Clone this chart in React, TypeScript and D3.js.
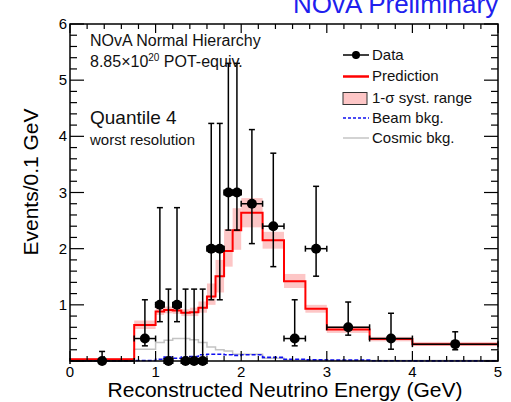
import React from "react";
import * as d3 from "d3";

// ---- data ----
const binEdges = [0, 0.75, 1.0, 1.1, 1.2, 1.3, 1.4, 1.5, 1.6, 1.7, 1.8, 1.9, 2.0, 2.25, 2.5, 2.75, 3.0, 3.5, 4.0, 5.0];
const dataValues = [0, 0.4, 1, 0, 1, 0, 0, 0, 2, 2, 3, 3, 2.8, 2.4, 0.4, 2.0, 0.6, 0.4, 0.3];
const dataUpper = [0.17, 1.09, 2.73, 1.28, 2.73, 1.28, 1.28, 1.28, 4.23, 4.23, 5.3, 5.3, 4.12, 3.7, 1.09, 3.11, 1.05, 0.85, 0.52];
const dataLower = [0, 0.27, 0.7, 0, 0.7, 0, 0, 0, 1.09, 1.09, 2.33, 2.33, 2.09, 1.68, 0.27, 1.51, 0.46, 0.21, 0.2];
const prediction = [0.03, 0.64, 0.88, 0.91, 0.9, 0.86, 0.87, 0.95, 1.15, 1.51, 1.96, 2.33, 2.64, 2.15, 1.42, 0.93, 0.56, 0.39, 0.3];
const bandLow = [0.02, 0.57, 0.82, 0.85, 0.84, 0.8, 0.8, 0.86, 1.0, 1.22, 1.68, 1.98, 2.38, 2.0, 1.3, 0.86, 0.5, 0.35, 0.27];
const bandHigh = [0.05, 0.72, 0.95, 0.97, 0.96, 0.92, 0.95, 1.06, 1.38, 1.8, 2.35, 2.72, 2.9, 2.3, 1.55, 1.0, 0.62, 0.43, 0.34];
const beamBkg = [0.005, 0.01, 0.03, 0.07, 0.05, 0.07, 0.08, 0.11, 0.12, 0.12, 0.11, 0.1, 0.11, 0.065, 0.03, 0.02, 0.015, 0.005, 0.003];
const cosmicBkg = [0.01, 0.21, 0.33, 0.37, 0.4, 0.4, 0.38, 0.33, 0.25, 0.2, 0.18, 0.12, 0.12, 0.05, 0.02, 0.02, 0.01, 0.01, 0.01];
const xTickLabels = ["0", "1", "2", "3", "4", "5"];
const yTickLabels = ["1", "2", "3", "4", "5", "6"];
const legendLabels = ["Data", "Prediction", "1-\u03c3 syst. range", "Beam bkg.", "Cosmic bkg."];

const FONT = "'Liberation Sans', Arial, Helvetica, sans-serif";

export default function App() {
  const W = 511, H = 402;
  const L = 70, R = 498, T = 24, B = 361;
  const x = d3.scaleLinear().domain([0, 5]).range([L, R]);
  const y = d3.scaleLinear().domain([0, 6]).range([B, T]);

  const stepPath = (vals: number[]) => {
    const pts: [number, number][] = vals.map((v, i) => [binEdges[i], v]);
    pts.push([binEdges[binEdges.length - 1], vals[vals.length - 1]]);
    return d3.line<[number, number]>().x((d) => x(d[0])).y((d) => y(d[1])).curve(d3.curveStepAfter)(pts) || "";
  };

  const xMinor = d3.range(0, 25.5, 1).map((i) => i * 0.2).filter((v) => Math.abs(v - Math.round(v)) > 1e-6);
  const xMajor = d3.range(0, 6);
  const yMinor = d3.range(0, 30.5, 1).map((i) => i * 0.2).filter((v) => Math.abs(v - Math.round(v)) > 1e-6);
  const yMajor = d3.range(0, 7);

  const cap = 3;
  const mr = 5;

  return (
    <svg width={W} height={H} style={{ position: "fixed", left: 0, top: 0, background: "#fff" }} fontFamily={FONT}>
      <rect x={0} y={0} width={W} height={H} fill="#fff" />
      {/* band */}
      {prediction.map((_, i) => (
        <rect key={"b" + i} x={x(binEdges[i])} width={x(binEdges[i + 1]) - x(binEdges[i])}
          y={y(bandHigh[i])} height={y(bandLow[i]) - y(bandHigh[i])} fill="#fdc6c6" />
      ))}
      <path d={stepPath(cosmicBkg)} fill="none" stroke="#c4c4c4" strokeWidth={1.5} />
      <path d={stepPath(beamBkg)} fill="none" stroke="#1010f0" strokeWidth={1.6} strokeDasharray="4,2" />
      <path d={stepPath(prediction)} fill="none" stroke="#ff0000" strokeWidth={2} />

      {/* ticks */}
      <g stroke="#000" strokeWidth={1.2}>
        {xMajor.map((v) => (
          <g key={"xM" + v}>
            <line x1={x(v)} x2={x(v)} y1={B} y2={B - 10} />
            <line x1={x(v)} x2={x(v)} y1={T} y2={T + 9} />
          </g>
        ))}
        {xMinor.map((v) => (
          <g key={"xm" + v}>
            <line x1={x(v)} x2={x(v)} y1={B} y2={B - 5} />
            <line x1={x(v)} x2={x(v)} y1={T} y2={T + 5} />
          </g>
        ))}
        {yMajor.map((v) => (
          <g key={"yM" + v}>
            <line x1={L} x2={L + 14} y1={y(v)} y2={y(v)} />
            <line x1={R} x2={R - 14} y1={y(v)} y2={y(v)} />
          </g>
        ))}
        {yMinor.map((v) => (
          <g key={"ym" + v}>
            <line x1={L} x2={L + 7} y1={y(v)} y2={y(v)} />
            <line x1={R} x2={R - 7} y1={y(v)} y2={y(v)} />
          </g>
        ))}
      </g>

      {/* data */}
      <g stroke="#000" strokeWidth={1.5}>
        {dataValues.map((v, i) => {
          const cx = x((binEdges[i] + binEdges[i + 1]) / 2);
          const x0 = x(binEdges[i]), x1 = x(binEdges[i + 1]);
          const yv = y(v), yu = y(dataUpper[i]), yl = y(dataLower[i]);
          return (
            <g key={"d" + i}>
              <line x1={x0} x2={x1} y1={yv} y2={yv} />
              <line x1={x0} x2={x0} y1={yv - cap} y2={yv + cap} />
              <line x1={x1} x2={x1} y1={yv - cap} y2={yv + cap} />
              <line x1={cx} x2={cx} y1={yu} y2={yl} />
              <line x1={cx - cap} x2={cx + cap} y1={yu} y2={yu} />
              {dataLower[i] > 0 && <line x1={cx - cap} x2={cx + cap} y1={yl} y2={yl} />}
              <circle cx={cx} cy={yv} r={mr} fill="#000" stroke="none" />
            </g>
          );
        })}
      </g>

      {/* frame */}
      <rect x={L} y={T} width={R - L} height={B - T} fill="none" stroke="#000" strokeWidth={1.5} />

      {/* tick labels */}
      {xTickLabels.map((t, i) => (
        <text key={"xt" + t} x={x(xMajor[i])} y={377} fontSize={15} textAnchor="middle" fill="#000">{t}</text>
      ))}
      {yTickLabels.map((t, i) => (
        <text key={"yt" + t} x={67} y={y(yMajor[i + 1]) + 5} fontSize={15} textAnchor="end" fill="#000">{t}</text>
      ))}

      {/* axis titles */}
      <text x={285} y={397} fontSize={21} textAnchor="middle" fill="#000">Reconstructed Neutrino Energy (GeV)</text>
      <text transform="translate(38,182) rotate(-90)" fontSize={21} textAnchor="middle" fill="#000">Events/0.1 GeV</text>

      {/* header */}
      <text x={293} y={13} fontSize={26} fill="#2020ee">NOvA Preliminary</text>

      {/* annotations */}
      <text x={90} y={46} fontSize={16} fill="#111">NOvA Normal Hierarchy</text>
      <text x={90} y={66.5} fontSize={16} fill="#111">
        8.85{"\u00d7"}10<tspan dy={-6} fontSize={10}>20</tspan><tspan dy={6}> POT-equiv.</tspan>
      </text>
      <text x={90} y={124} fontSize={19} fill="#111">Quantile 4</text>
      <text x={90} y={145} fontSize={15} fill="#111">worst resolution</text>

      {/* legend */}
      <g>
        <line x1={343} x2={369} y1={55} y2={55} stroke="#000" strokeWidth={1.5} />
        <line x1={356} x2={356} y1={51} y2={59} stroke="#000" strokeWidth={1.5} />
        <circle cx={356} cy={55} r={4} fill="#000" />
        <line x1={343} x2={369} y1={76.5} y2={76.5} stroke="#ff0000" strokeWidth={2.5} />
        <rect x={343} y={92.5} width={24} height={12} fill="#fdc6c6" stroke="#333" strokeWidth={1} />
        <line x1={343} x2={369} y1={118} y2={118} stroke="#1010f0" strokeWidth={1.5} strokeDasharray="3,2" />
        <line x1={343} x2={369} y1={138} y2={138} stroke="#c4c4c4" strokeWidth={1.5} />
        {legendLabels.map((t, i) => (
          <text key={"lg" + i} x={372} y={[60, 80.5, 102.5, 123, 143][i]} fontSize={15} fill="#111">{t}</text>
        ))}
      </g>
    </svg>
  );
}
